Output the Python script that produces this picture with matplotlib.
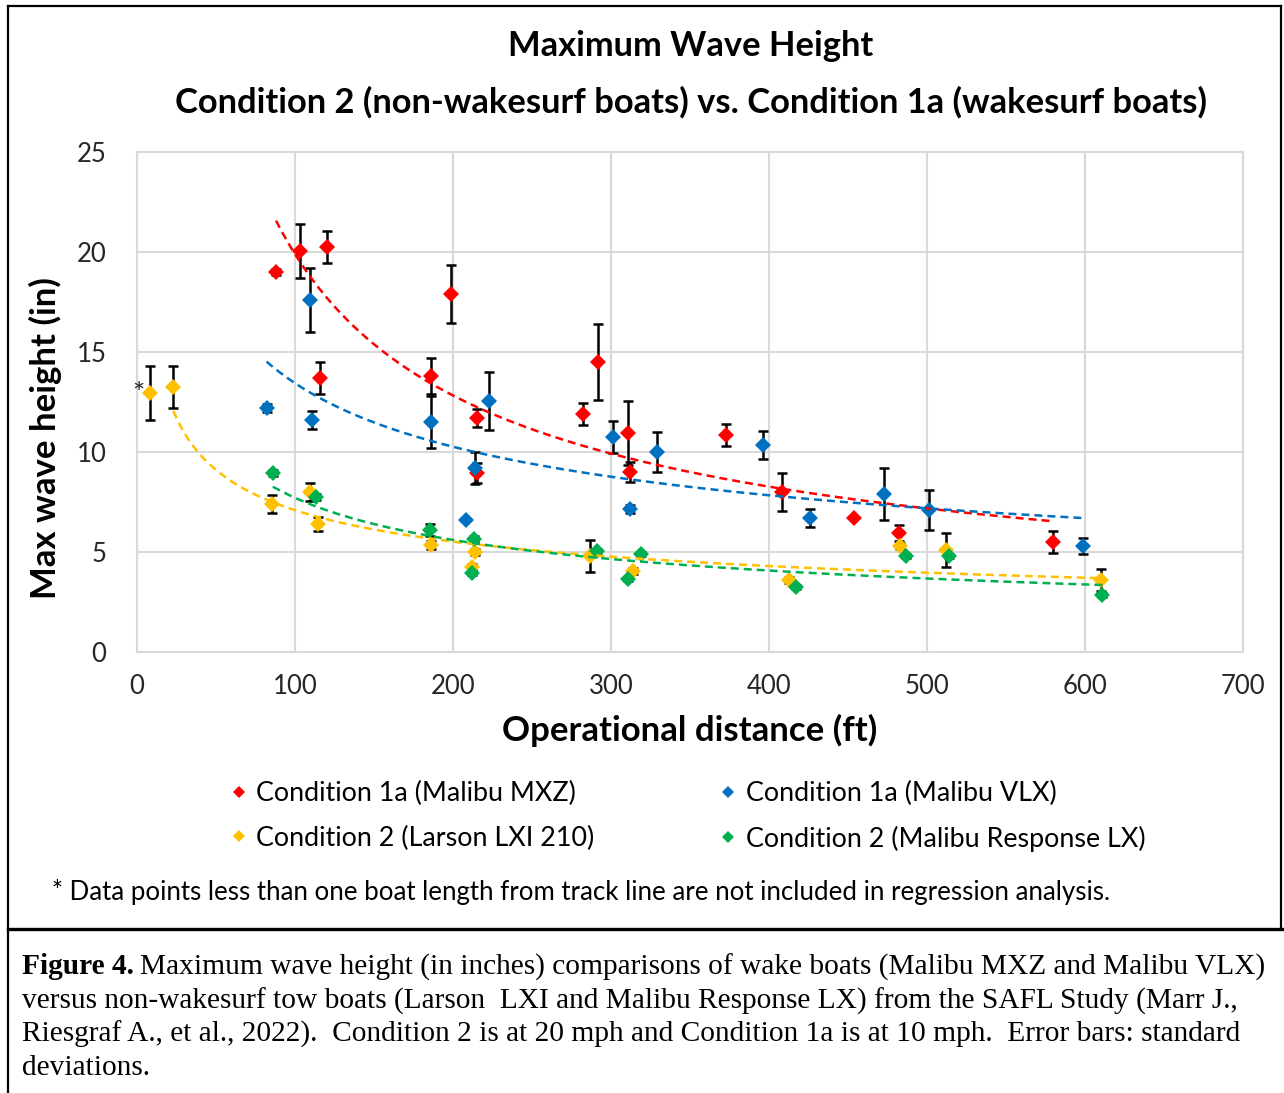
import numpy as np
import matplotlib
matplotlib.use("Agg")
import matplotlib.pyplot as plt
from matplotlib.lines import Line2D

plt.rcParams['font.family'] = ['Lato', 'DejaVu Sans']

# --- data (distance ft, max wave height in, std dev) ---
mxz_x = [88, 103, 120, 116, 186, 199, 215, 215, 282, 292, 311, 312, 373, 408, 454, 482, 580]
mxz_y = [19.0, 20.05, 20.25, 13.7, 13.8, 17.9, 11.7, 8.95, 11.9, 14.5, 10.95, 9.0, 10.85, 8.0, 6.7, 5.95, 5.5]
mxz_err = [0.15, 1.35, 0.8, 0.8, 0.9, 1.45, 0.45, 0.5, 0.55, 1.9, 1.6, 0.5, 0.55, 0.95, 0.0, 0.4, 0.55]

vlx_x = [82, 109.5, 111, 186, 214, 223, 208, 301, 312, 329, 396, 426, 473, 501, 599]
vlx_y = [12.2, 17.6, 11.6, 11.5, 9.2, 12.55, 6.6, 10.75, 7.15, 10.0, 10.35, 6.7, 7.9, 7.1, 5.3]
vlx_err = [0.2, 1.6, 0.45, 1.3, 0.8, 1.45, 0.0, 0.8, 0.2, 1.0, 0.7, 0.43, 1.3, 1.0, 0.4]

lxi_x = [8, 23, 85.5, 109.5, 114.5, 186, 214, 212, 287, 314, 412.5, 483, 512, 610]
lxi_y = [12.95, 13.25, 7.4, 8.0, 6.4, 5.35, 5.0, 4.25, 4.8, 4.05, 3.6, 5.3, 5.1, 3.6]
lxi_err = [1.35, 1.05, 0.47, 0.45, 0.35, 0.2, 0.15, 0.15, 0.8, 0.15, 0.15, 0.15, 0.85, 0.55]

resp_x = [86, 113.5, 185.5, 213, 212, 291, 311, 319, 417, 487, 514, 611]
resp_y = [8.95, 7.75, 6.1, 5.65, 3.95, 5.05, 3.65, 4.9, 3.25, 4.8, 4.8, 2.85]
resp_err = [0.15, 0.15, 0.3, 0.15, 0.1, 0.1, 0.1, 0.1, 0.1, 0.1, 0.1, 0.1]

# points closer than one boat length are left out of the regression
excluded_x = 8

series = [
    ("Condition 1a (Malibu MXZ)", mxz_x, mxz_y, mxz_err, "#FF0000"),
    ("Condition 1a (Malibu VLX)", vlx_x, vlx_y, vlx_err, "#0070C0"),
    ("Condition 2 (Larson LXI 210)", lxi_x, lxi_y, lxi_err, "#FFC000"),
    ("Condition 2 (Malibu Response LX)", resp_x, resp_y, resp_err, "#00B050"),
]

W, H = 1284, 1093
fig = plt.figure(figsize=(W / 100, H / 100), dpi=100)
ax = fig.add_axes([137 / W, 1 - 652 / H, 1106 / W, 500 / H])

handles = {}
for i, (label, x, y, err, color) in enumerate(series):
    x = np.array(x, dtype=float)
    y = np.array(y, dtype=float)
    ax.errorbar(x, y, yerr=err, fmt='none', ecolor='black', elinewidth=1.8,
                capsize=3.6, capthick=1.8, zorder=3 + i * 0.1)
    h, = ax.plot(x, y, 'D', color=color, markersize=8.5, markeredgewidth=0,
                 zorder=4 + i * 0.1, label=label)
    handles[label] = h

    # power trendline (Excel style): fit in log-log space
    keep = x > excluded_x
    b, a = np.polyfit(np.log(x[keep]), np.log(y[keep]), 1)
    xs = np.linspace(x[keep].min(), x[keep].max(), 200)
    ax.plot(xs, np.exp(a) * xs ** b, color=color, lw=1.8, dashes=(3.2, 2.0), zorder=5)

ax.text(lxi_x[0] - 3, lxi_y[0] - 0.1, "*", ha='right', va='center', fontsize=21, color='#262626')

ax.set_xlim(0, 700)
ax.set_ylim(0, 25)
ax.set_xticks(range(0, 701, 100))
ax.set_yticks(range(0, 26, 5))
ax.grid(True, color='#d9d9d9', lw=1.5)
ax.set_axisbelow(True)
for s in ax.spines.values():
    s.set_color('#d9d9d9')
    s.set_linewidth(1.5)
ax.tick_params(length=0, labelsize=18.5, colors='#262626')
ax.tick_params(axis='y', pad=22)
ax.tick_params(axis='x', pad=16)

fig.text(691 / W, 1 - 46 / H, "Maximum Wave Height", ha='center', va='center',
         fontsize=24.8, fontweight='bold')
fig.text(691 / W, 1 - 102 / H,
         "Condition 2 (non-wakesurf boats) vs. Condition 1a (wakesurf boats)",
         ha='center', va='center', fontsize=24.8, fontweight='bold')
fig.text(45 / W, 1 - 438 / H, "Max wave height (in)", rotation=90,
         ha='center', va='center', fontsize=25, fontweight='bold')
fig.text(690 / W, 1 - 730 / H, "Operational distance (ft)", ha='center',
         va='center', fontsize=25, fontweight='bold')

order = ["Condition 1a (Malibu MXZ)", "Condition 2 (Larson LXI 210)",
         "Condition 1a (Malibu VLX)", "Condition 2 (Malibu Response LX)"]
leg_handles = [Line2D([], [], marker='D', ls='none', color=handles[k].get_color(),
                      markersize=6.5, markeredgewidth=0) for k in order]
fig.legend(leg_handles, order, ncol=2, loc='center', bbox_to_anchor=(688 / W, 1 - 816.5 / H),
           frameon=False, fontsize=19.4, handletextpad=0.34, columnspacing=4.67,
           labelspacing=0.72, handlelength=0.6, borderpad=0)

fig.text(52 / W, 1 - 892 / H,
         "* Data points less than one boat length from track line are not included in regression analysis.",
         ha='left', va='center', fontsize=18.6)

# frame lines around the chart and caption
fig.add_artist(Line2D([8 / W, 8 / W], [0, 1 - 6 / H], color='black', lw=1.6))
fig.add_artist(Line2D([8 / W, 1281 / W], [1 - 6 / H, 1 - 6 / H], color='black', lw=1.6))
fig.add_artist(Line2D([1281 / W, 1281 / W], [1 - 6 / H, 1 - 929 / H], color='black', lw=1.6))
fig.add_artist(Line2D([8 / W, 1.0], [1 - 929 / H, 1 - 929 / H], color='black', lw=2.4))

caption = [
    "Maximum wave height (in inches) comparisons of wake boats (Malibu MXZ and Malibu VLX)",
    "versus non-wakesurf tow boats (Larson  LXI and Malibu Response LX) from the SAFL Study (Marr J.,",
    "Riesgraf A., et al., 2022).  Condition 2 is at 20 mph and Condition 1a is at 10 mph.  Error bars: standard",
    "deviations.",
]
serif = ['Liberation Serif', 'DejaVu Serif']
t = fig.text(22 / W, 1 - 967 / H, "Figure 4.", ha='left', va='center',
             fontsize=21.2, fontweight='bold', family=serif)
fig.canvas.draw()
bb = t.get_window_extent()
fig.text((bb.x1 + 6) / W, 1 - 967 / H, caption[0], ha='left', va='center',
         fontsize=21.2, family=serif)
for k, line in enumerate(caption[1:]):
    fig.text(22 / W, 1 - (1001 + 33.7 * k) / H, line, ha='left', va='center',
             fontsize=21.2, family=serif)

fig.savefig("out.png", dpi=100)
